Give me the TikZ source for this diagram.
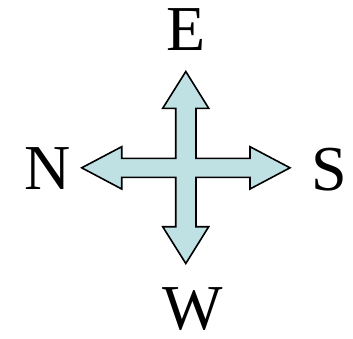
\documentclass[tikz,border=0pt]{standalone}
\usepackage{fontspec}
\setmainfont{Liberation Serif}
\definecolor{arrowfill}{RGB}{191,225,228}
\begin{document}
\begin{tikzpicture}[x=1pt,y=-1pt,
  lbl/.style={inner sep=0pt,anchor=center,font=\fontsize{64}{64}\selectfont},
  crossarrow/.style={draw=black,fill=arrowfill,line width=1.6pt,line join=miter}]
\useasboundingbox (0,0) rectangle (353,338);
\coordinate (c) at (185.8,167.8);
\draw[crossarrow]
  (185.8,71.5) -- (208.7,108.3) -- (196,108.3) -- (196,158.3)
  -- (250,158.3) -- (250,146.7) -- (290,167.8) -- (250,189) -- (250,177.3)
  -- (196,177.3) -- (196,226.7) -- (208.7,226.7) -- (185.8,263.5)
  -- (162.7,226.7) -- (175.7,226.7) -- (175.7,177.3) -- (121.7,177.3)
  -- (121.7,189) -- (81.7,167.8) -- (121.7,146.7) -- (121.7,158.3)
  -- (175.7,158.3) -- (175.7,108.3) -- (162.7,108.3) -- cycle;
\node[lbl] (e) at (186.5,30) {E};
\node[lbl] (n) at (47.5,169) {N};
\node[lbl] (s) at (329,170) {S};
\node[lbl] (w) at (193,309.5) {W};
\end{tikzpicture}
\end{document}
